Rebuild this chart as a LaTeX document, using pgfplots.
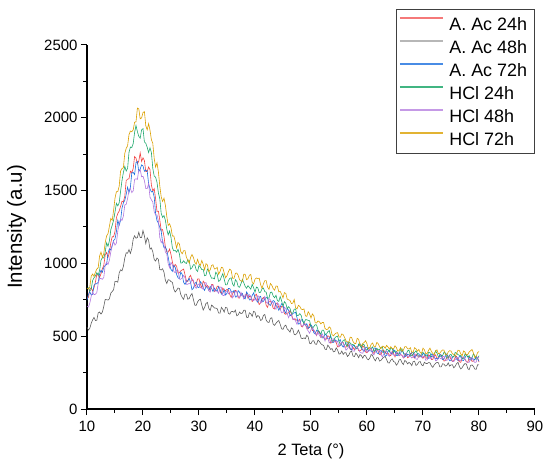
\documentclass[border=0pt]{standalone}
\usepackage{fontspec}
\setmainfont{Liberation Sans}
\usepackage{pgfplots}
\usepackage{pgfplotstable}
\pgfplotsset{compat=1.18}
\definecolor{cR}{HTML}{F14040}
\definecolor{cGy}{HTML}{5E5E5E}
\definecolor{cB}{HTML}{1A6FDF}
\definecolor{cG}{HTML}{1FA86C}
\definecolor{cP}{HTML}{B177DE}
\definecolor{cO}{HTML}{DBA000}
\pgfplotstableread{
x R Gy B G P O
10 759 562 747 828 705 828
10.25 766 542 787 833 700 824
10.5 822 554 805 809 727 837
10.75 833 588 783 823 773 912
11 810 612 788 882 803 927
11.25 832 629 850 901 785 911
11.5 871 608 860 913 788 939
11.75 925 609 860 937 799 961
12 918 660 871 919 862 971
12.25 903 666 927 952 897 1051
12.5 929 652 953 1022 896 1078
12.75 964 666 939 1040 891 1041
13 987 705 974 1037 904 1069
13.25 1057 752 986 1076 987 1143
13.5 1075 751 992 1142 1007 1189
13.75 1041 748 1069 1117 992 1204
14 1073 756 1100 1155 1022 1254
14.25 1142 796 1092 1231 1078 1309
14.5 1183 807 1123 1262 1120 1296
14.75 1183 819 1157 1296 1150 1364
15 1219 876 1168 1353 1125 1448
15.25 1315 877 1218 1413 1139 1492
15.5 1343 871 1297 1395 1222 1493
15.75 1360 935 1262 1417 1278 1530
16 1392 956 1295 1496 1303 1635
16.25 1427 949 1379 1570 1295 1651
16.5 1422 980 1416 1625 1325 1658
16.75 1462 1037 1433 1666 1401 1756
17 1569 1073 1474 1634 1406 1790
17.25 1579 1070 1523 1653 1446 1808
17.5 1581 1095 1487 1763 1502 1884
17.75 1633 1068 1524 1799 1515 1909
18 1623 1102 1621 1796 1486 1904
18.25 1652 1167 1625 1823 1498 1917
18.5 1734 1190 1610 1899 1577 1970
18.75 1723 1173 1692 1947 1581 1972
19 1684 1178 1701 1905 1577 2067
19.25 1703 1214 1630 1873 1642 2061
19.5 1759 1178 1648 1860 1644 1993
19.75 1700 1177 1677 1918 1595 1999
20 1725 1226 1669 1925 1598 2036
20.25 1706 1188 1633 1835 1569 2043
20.5 1630 1136 1641 1825 1514 1945
20.75 1632 1176 1635 1798 1514 1917
21 1662 1159 1548 1761 1548 1960
21.25 1644 1098 1512 1794 1455 1915
21.5 1538 1106 1491 1761 1437 1850
21.75 1496 1080 1495 1653 1421 1824
22 1514 1027 1456 1600 1356 1722
22.25 1444 1016 1343 1592 1333 1661
22.5 1357 1037 1294 1557 1333 1691
22.75 1359 1027 1275 1484 1293 1629
23 1298 958 1248 1444 1178 1531
23.25 1228 955 1221 1344 1143 1457
23.5 1232 963 1144 1316 1157 1425
23.75 1186 939 1108 1329 1125 1448
24 1112 884 1114 1296 1078 1399
24.25 1078 862 1089 1235 1064 1322
24.5 1077 888 1043 1196 997 1261
24.75 1099 885 988 1223 970 1272
25 1060 875 959 1178 1007 1245
25.25 1010 870 945 1107 990 1188
25.5 972 824 986 1086 946 1189
25.75 993 803 974 1089 935 1151
26 981 815 924 1077 955 1105
26.25 934 831 901 1097 952 1144
26.5 936 828 895 1065 892 1134
26.75 949 786 940 1002 891 1080
27 955 766 925 1004 901 1066
27.25 961 753 870 1018 917 1087
27.5 922 789 856 1005 902 1088
27.75 881 789 875 999 856 1042
28 876 754 882 1024 857 1022
28.25 906 759 898 1021 863 1002
28.5 918 780 867 960 862 1041
28.75 886 793 819 970 894 1061
29 877 752 829 991 885 1041
29.25 841 713 862 990 840 1008
29.5 857 712 871 956 829 995
29.75 893 736 837 945 853 1028
30 894 749 833 986 859 997
30.25 855 754 874 975 833 987
30.5 833 714 863 957 831 1020
30.75 878 680 833 958 822 994
31 865 697 815 915 864 956
31.25 837 725 840 919 869 998
31.5 849 732 836 961 839 990
31.75 836 692 816 949 812 942
32 811 677 842 919 803 956
32.25 856 714 828 898 853 986
32.5 854 705 807 900 846 991
32.75 807 694 831 893 809 962
33 817 693 815 940 811 964
33.25 843 689 810 926 809 973
33.5 844 659 839 876 795 925
33.75 806 658 822 883 838 943
34 795 698 788 907 836 973
34.25 831 685 793 930 780 970
34.5 816 666 820 892 779 934
34.75 813 698 783 853 806 901
35 822 694 795 853 811 916
35.25 818 657 828 881 791 942
35.5 786 651 827 897 799 961
35.75 767 669 807 901 807 951
36 792 670 803 858 764 898
36.25 807 665 814 844 780 897
36.5 815 679 769 888 808 932
36.75 809 640 771 876 805 934
37 763 647 813 840 773 918
37.25 762 666 802 836 766 887
37.5 794 655 778 861 802 880
37.75 789 659 793 890 782 876
38 767 678 763 867 756 926
38.25 771 679 756 842 786 925
38.5 797 630 804 829 778 888
38.75 760 628 788 847 766 895
39 773 661 749 835 785 919
39.25 772 654 751 823 776 924
39.5 738 636 780 857 750 869
39.75 751 671 798 833 743 859
40 779 665 768 802 757 891
40.25 789 629 746 837 744 900
40.5 745 642 733 832 779 896
40.75 718 635 768 800 770 899
41 729 608 774 802 728 855
41.25 753 614 735 825 736 828
41.5 767 643 739 831 759 859
41.75 761 649 756 806 773 882
42 711 610 766 803 732 881
42.25 698 597 762 759 726 837
42.5 739 594 719 764 758 822
42.75 742 623 711 801 750 862
43 723 627 735 803 731 850
43.25 692 582 745 776 733 827
43.5 687 574 739 764 693 816
43.75 728 589 710 781 685 845
44 723 600 702 744 729 843
44.25 698 608 678 739 718 804
44.5 683 582 700 772 686 808
44.75 705 551 723 744 661 789
45 701 547 713 706 662 763
45.25 655 569 677 737 699 799
45.5 650 576 657 726 690 794
45.75 658 550 693 689 654 755
46 660 541 678 703 627 750
46.25 676 528 642 691 649 745
46.5 655 557 642 658 645 724
46.75 619 549 656 659 614 727
47 613 512 660 686 622 752
47.25 618 510 664 687 604 696
47.5 608 521 627 641 581 687
47.75 603 542 583 643 611 712
48 617 518 586 655 607 705
48.25 569 486 611 642 574 686
48.5 564 484 615 603 568 683
48.75 587 488 583 589 583 687
49 582 483 575 613 584 640
49.25 560 507 586 613 550 636
49.5 551 495 554 609 536 668
49.75 583 451 561 606 520 652
50 568 448 578 568 545 625
50.25 539 467 563 553 558 653
50.5 541 469 523 566 543 641
50.75 528 446 515 579 518 592
51 505 444 542 577 506 591
51.25 537 473 535 542 527 605
51.5 532 464 523 525 504 599
51.75 491 449 521 513 495 585
52 496 441 488 542 516 594
52.25 496 437 489 541 496 595
52.5 478 411 516 512 468 553
52.75 480 408 506 514 497 546
53 503 439 482 530 489 548
53.25 498 426 482 539 454 564
53.5 452 409 500 503 462 556
53.75 457 415 459 470 480 511
54 470 393 457 467 482 502
54.25 475 395 476 487 460 514
54.5 457 420 469 498 460 522
54.75 426 405 464 500 464 524
55 428 377 470 466 429 495
55.25 445 380 476 437 440 493
55.5 457 398 439 450 458 516
55.75 457 375 425 471 454 511
56 427 387 440 476 428 492
56.25 424 386 452 443 404 468
56.5 447 361 456 431 414 461
56.75 435 370 453 461 430 457
57 410 391 415 453 442 493
57.25 409 398 406 444 435 492
57.5 424 364 438 442 398 464
57.75 407 360 435 439 397 451
58 427 384 416 414 420 449
58.25 428 372 417 413 422 485
58.5 402 352 439 446 411 479
58.75 399 374 449 435 390 442
59 407 366 421 420 385 435
59.25 435 349 405 446 383 450
59.5 423 369 396 441 416 457
59.75 391 365 421 410 415 469
60 386 345 426 405 390 447
60.25 402 338 398 419 395 413
60.5 409 350 401 421 411 421
60.75 416 375 398 416 415 445
61 390 366 390 426 378 453
61.25 382 345 419 396 372 429
61.5 413 331 419 401 393 427
61.75 413 352 387 416 400 457
62 396 353 378 406 398 449
62.25 374 329 396 409 402 428
62.5 372 334 402 424 374 414
62.75 406 347 390 426 357 432
63 403 356 393 387 379 430
63.25 387 361 363 385 396 417
63.5 379 340 369 411 397 437
63.75 384 317 397 406 370 426
64 369 316 401 392 362 411
64.25 367 335 383 420 390 428
64.5 397 344 376 416 384 416
64.75 380 326 407 388 371 413
65 358 321 398 399 366 434
65.25 384 301 368 395 388 422
65.5 381 313 366 375 389 397
65.75 366 338 379 382 367 402
66 374 340 383 408 375 422
66.25 369 318 402 414 366 395
66.5 351 305 389 384 352 404
66.75 358 334 358 375 380 428
67 381 326 365 374 382 428
67.25 352 310 376 399 360 414
67.5 358 320 371 404 359 412
67.75 381 313 370 369 361 421
68 380 298 389 365 351 389
68.25 359 327 389 379 357 391
68.5 350 328 355 389 379 421
68.75 377 299 363 399 343 413
69 365 306 378 381 341 397
69.25 355 323 380 358 364 409
69.5 371 326 361 358 365 388
69.75 364 303 358 380 355 383
70 348 297 384 390 357 418
70.25 367 321 379 371 365 407
70.5 355 313 370 367 335 379
70.75 345 312 372 362 337 382
71 372 319 347 390 365 404
71.25 364 317 352 386 358 418
71.5 339 297 378 359 343 396
71.75 341 286 373 362 369 381
72 363 303 356 376 365 373
72.25 372 314 344 399 331 400
72.5 346 320 347 383 335 406
72.75 354 318 345 358 351 379
73 369 289 376 359 351 383
73.25 372 289 369 367 344 397
73.5 355 311 339 366 357 406
73.75 329 308 345 391 363 404
74 333 295 363 385 335 374
74.25 350 299 378 349 334 371
74.5 363 317 355 350 341 391
74.75 365 294 331 371 360 401
75 341 303 333 375 359 398
75.25 326 304 353 357 328 379
75.5 333 283 364 358 326 375
75.75 354 293 368 388 340 361
76 362 312 342 384 350 382
76.25 336 320 334 373 355 404
76.5 325 291 364 369 333 401
76.75 320 275 358 368 334 378
77 349 284 335 346 357 366
77.25 357 302 333 348 356 399
77.5 342 312 351 379 343 391
77.75 325 309 372 370 324 369
78 320 277 358 357 321 375
78.25 355 270 343 366 320 392
78.5 351 299 336 348 352 400
78.75 327 303 350 353 352 409
79 329 293 343 379 330 385
79.25 344 274 337 366 320 354
79.5 351 273 361 341 322 362
79.75 352 304 347 346 356 387
80 322 303 328 366 351 395
}\data
\begin{document}
\begin{tikzpicture}
\useasboundingbox (-87bp,-64bp) rectangle (463bp,409bp);
\begin{axis}[
  at={(0,0)}, anchor=south west,
  scale only axis, width=448bp, height=364bp,
  xmin=10, xmax=90, ymin=0, ymax=2500,
  axis x line*=bottom, axis y line*=left,
  axis line style={line width=1.1bp, black, -},
  xtick={10,20,...,90}, ytick={0,500,...,2500},
  minor x tick num=1, minor y tick num=1,
  tick align=outside, major tick length=6bp, minor tick length=3.5bp,
  every tick/.style={line width=1bp, black},
  ticklabel style={font=\fontsize{15}{17}\selectfont},
  xticklabel style={yshift=-3bp},
  /pgf/number format/assume math mode=true,
  /pgf/number format/1000 sep={},
  xlabel={2 Teta (°)}, ylabel={Intensity (a.u)},
  xlabel style={font=\fontsize{16.5}{19}\selectfont, at={(axis description cs:0.5,-0.115)}, anchor=center},
  ylabel style={font=\fontsize{20.5}{23}\selectfont, at={(axis description cs:-0.157,0.5)}, anchor=center},
  legend style={at={(axis description cs:1,1.099)}, anchor=north east,
    draw=black!75, line width=0.8bp, font=\fontsize{18}{20}\selectfont,
    inner xsep=2bp, inner ysep=3bp, row sep=0bp, column sep=0bp,
    nodes={text height=13bp, text depth=0bp, inner ysep=5bp, inner xsep=2.5bp}},
  legend cell align=left,
  legend image code/.code={\draw[#1] (0bp,5.5bp) -- (43bp,5.5bp); \path (46bp,5.5bp);},
]
\addplot[cR, line width=0.6bp, forget plot] table[x=x,y=R]{\data};
\addplot[cGy, line width=0.6bp, forget plot] table[x=x,y=Gy]{\data};
\addplot[cB, line width=0.6bp, forget plot] table[x=x,y=B]{\data};
\addplot[cG, line width=0.6bp, forget plot] table[x=x,y=G]{\data};
\addplot[cP, line width=0.6bp, forget plot] table[x=x,y=P]{\data};
\addplot[cO, line width=0.6bp, forget plot] table[x=x,y=O]{\data};
\addlegendimage{draw=cR!70, line width=2bp}
\addlegendentry{A. Ac 24h\rule{3bp}{0pt}}
\addlegendimage{draw=cGy!45, line width=2bp}
\addlegendentry{A. Ac 48h\rule{3bp}{0pt}}
\addlegendimage{draw=cB!80, line width=2bp}
\addlegendentry{A. Ac 72h\rule{3bp}{0pt}}
\addlegendimage{draw=cG!85, line width=2bp}
\addlegendentry{HCl 24h}
\addlegendimage{draw=cP!75, line width=2bp}
\addlegendentry{HCl 48h}
\addlegendimage{draw=cO!80, line width=2bp}
\addlegendentry{HCl 72h}
\end{axis}
\end{tikzpicture}
\end{document}
